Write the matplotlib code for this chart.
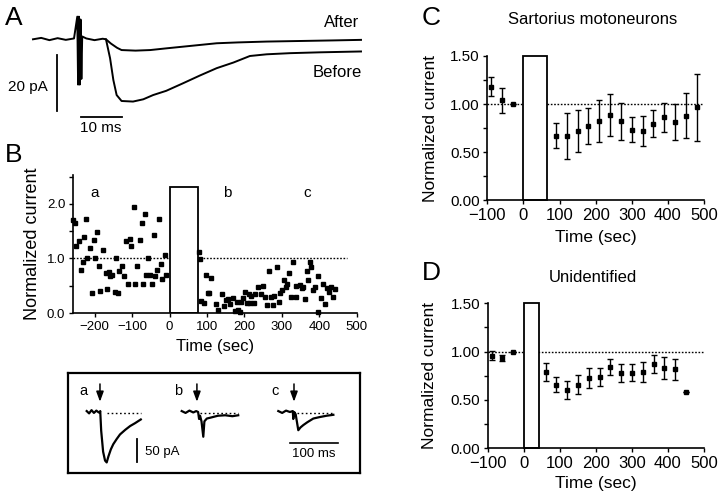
import matplotlib
matplotlib.use("Agg")
import matplotlib.pyplot as plt
from matplotlib.ticker import FixedLocator, FuncFormatter

plt.rcParams['font.family'] = ['Liberation Sans', 'DejaVu Sans']

# ---------------- data ----------------
# Panel A traces (ms, pA)
a_before_t = [0, 2, 4, 6, 8, 10, 10.8, 11.0, 11.2, 11.4, 11.6, 11.8, 12.0, 13, 15, 17, 17.8, 18.8, 19.6,
              20.4, 21.6, 24.4, 26.9, 29.3, 32.5, 36.5, 40.7, 44.8, 48.9, 52.9, 57, 62.7, 70, 80]
a_before_v = [0, 0.5, -0.3, 0.4, -0.2, 0.3, 8, -16, 8, -16, 7, -14, 1, 0.3, -0.3, 0.2, 0, -6.7, -14.4,
              -19.7, -21.8, -22, -21.2, -19.7, -18.2, -15.6, -12.8, -10.2, -8.2, -5.9, -5.3, -4.9, -4.6, -4.3]
a_after_t = [17.8, 19, 20.5, 21.6, 25, 28.6, 32.5, 36.6, 40.7, 44.8, 50, 57, 65, 73, 80]
a_after_v = [0, -1.5, -3.0, -3.8, -4.0, -3.8, -3.2, -2.6, -2.0, -1.4, -1.1, -0.8, -0.6, -0.4, -0.2]

# Panel B scatter
b_pre_x = [-259, -253, -250, -241, -237, -231, -228, -224, -220, -213, -208, -203, -199, -193, -188, -185,
           -177, -171, -166, -163, -159, -154, -146, -144, -138, -134, -127, -122, -117, -112, -107, -102,
           -95, -92, -87, -80, -74, -71, -66, -63, -57, -51, -47, -42, -38, -34, -27, -23, -20, -13, -10]
b_pre_y = [1.71, 1.65, 1.23, 1.32, 0.79, 0.94, 1.39, 1.72, 1.00, 1.20, 0.36, 1.34, 1.00, 1.49, 0.86, 0.40,
           1.16, 0.74, 0.44, 0.76, 0.67, 0.70, 0.39, 1.00, 0.36, 0.77, 0.86, 0.68, 1.32, 0.53, 1.35, 1.23,
           1.95, 0.53, 0.86, 1.33, 1.65, 0.53, 1.82, 0.70, 1.00, 0.70, 0.53, 1.43, 0.67, 0.78, 1.72, 0.90,
           0.62, 1.06, 0.70]
b_post_x = [79, 80, 85, 91, 97, 102, 106, 112, 125, 129, 140, 146, 151, 157, 162, 169, 175, 179, 182, 187,
            191, 196, 201, 207, 211, 216, 218, 225, 229, 236, 243, 250, 256, 261, 266, 271, 276, 280, 287,
            292, 296, 301, 305, 311, 314, 320, 325, 330, 338, 339, 348, 354, 357, 361, 366, 370, 375, 379,
            384, 388, 396, 397, 405, 409, 414, 420, 426, 430, 437, 441]
b_post_y = [1.11, 0.99, 0.22, 0.18, 0.69, 0.36, 0.36, 0.65, 0.16, 0.06, 0.35, 0.12, 0.23, 0.25, 0.17, 0.27,
            0.04, 0.21, 0.06, 0.01, 0.20, 0.27, 0.39, 0.18, 0.35, 0.18, 0.31, 0.18, 0.35, 0.48, 0.35, 0.50,
            0.30, 0.15, 0.77, 0.30, 0.15, 0.32, 0.85, 0.21, 0.36, 0.42, 0.61, 0.48, 0.53, 0.73, 0.30, 0.93,
            0.50, 0.30, 0.51, 0.45, 0.48, 0.25, 0.77, 0.61, 0.93, 0.84, 0.42, 0.48, 0.68, 0.02, 0.27, 0.54,
            0.16, 0.45, 0.39, 0.48, 0.30, 0.44]
b_bar_width = 75
b_bar_height = 2.31
b_labels = ['a', 'b', 'c']
b_label_x = [-199, 154, 368]

# Panel B inset traces (ms relative to trace start, pA)
ins_a_t = [0, 5, 10, 15, 20, 25, 27.5, 28, 30, 34, 38, 41.4, 45, 50, 55, 62, 69, 80, 90, 100, 112]
ins_a_v = [2, -3, 4, -2, 3, -1, 0, 2, -40, -85, -104, -108, -95, -80, -69, -58, -48, -38, -30, -24, -16]
ins_b_t = [0, 8, 16, 24, 30, 34, 36, 38, 41, 44.7, 47, 52, 60, 75, 90, 105, 117]
ins_b_v = [2, -2, 3, -1, 2, 0, -15, -8, -20, -53, -20, -14, -12, -8, -7, -9, -7]
ins_c_t = [0, 8, 16, 24, 30, 31, 33, 36, 41.4, 46, 51.8, 60, 72.5, 85, 100, 114]
ins_c_v = [2, -2, 3, 0, 2, -15, 0, -5, -39, -33, -28, -22, -14, -11, -8, -6]
ins_offsets = [38.7, 235.4, 435.4]
ins_arrow_t = [27.5, 31.5, 32.5]
ins_dot_start = [41.4, 38.9, 38.0]

# Panel C
c_x = [-90, -60, -30, 90, 120, 150, 180, 210, 240, 270, 300, 330, 360, 390, 420, 450, 480]
c_y = [1.18, 1.04, 1.00, 0.67, 0.67, 0.72, 0.77, 0.826, 0.885, 0.82, 0.73, 0.72, 0.795, 0.86, 0.81, 0.88, 0.965]
c_err = [0.097, 0.13, 0, 0.13, 0.24, 0.215, 0.19, 0.22, 0.22, 0.19, 0.13, 0.16, 0.14, 0.15, 0.19, 0.23, 0.35]
c_bar_width = 65

# Panel D
d_x = [-90, -60, -30, 60, 90, 120, 150, 180, 210, 240, 270, 300, 330, 360, 390, 420, 450]
d_y = [0.957, 0.934, 1.00, 0.785, 0.657, 0.60, 0.655, 0.723, 0.733, 0.837, 0.775, 0.778, 0.79, 0.871,
       0.83, 0.816, 0.578]
d_err = [0.044, 0.03, 0, 0.092, 0.075, 0.097, 0.099, 0.102, 0.092, 0.082, 0.096, 0.088, 0.106, 0.095,
         0.118, 0.11, 0]
d_bar_width = 43

# ---------------- figure ----------------
W, H = 720, 496
fig = plt.figure(figsize=(7.2, 4.96), dpi=100)


def px_axes(l, t, r, b):
    return fig.add_axes([l / W, 1 - b / H, (r - l) / W, (b - t) / H])


LW = 1.2

# ---------- Panel A ----------
axA = px_axes(20, 10, 370, 135)
msx, pay = 4.1, 2.83
axA.set_xlim(-13 / msx, 337 / msx)
axA.set_ylim(-(135 - 39.3) / pay, (39.3 - 10) / pay)
axA.axis('off')
axA.plot(a_before_t, a_before_v, color='black', lw=1.4)
axA.plot(a_after_t, a_after_v, color='black', lw=1.4)
axA.plot([5.85, 5.85], [-5.5, -25.5], color='black', lw=1.3)
axA.plot([11.7, 21.7], [-27.4, -27.4], color='black', lw=1.3)
axA.text(-1.2, -17.0, '20 pA', ha='center', va='center', fontsize=11)
axA.text(16.6, -31.2, '10 ms', ha='center', va='center', fontsize=11)
axA.text(79.5, 6.1, 'After', ha='right', va='center', fontsize=12)
axA.text(80.2, -11.6, 'Before', ha='right', va='center', fontsize=12)

fig.text(14 / W, 1 - 18 / H, 'A', fontsize=19, ha='center', va='center')
fig.text(14 / W, 1 - 155 / H, 'B', fontsize=19, ha='center', va='center')
fig.text(431 / W, 1 - 18 / H, 'C', fontsize=19, ha='center', va='center')
fig.text(431 / W, 1 - 273 / H, 'D', fontsize=19, ha='center', va='center')


def style_axes(ax, fsx, fsy):
    for s in ['top', 'right']:
        ax.spines[s].set_visible(False)
    for s in ['left', 'bottom']:
        ax.spines[s].set_linewidth(LW)
    ax.tick_params(direction='out', length=3, width=1.0, pad=2.5)
    ax.tick_params(axis='x', labelsize=fsx)
    ax.tick_params(axis='y', labelsize=fsy)


dot_style = dict(color='black', lw=1.0, linestyle=(0, (1.2, 1.2)), zorder=1)

# ---------- Panel B ----------
axB = px_axes(73, 175, 356.7, 313)
axB.set_xlim(-258, 500)
axB.set_ylim(0, 2.53)
style_axes(axB, 9.5, 9.5)
axB.plot([-258, 475], [1, 1], **dot_style)
axB.bar([0], [b_bar_height], width=b_bar_width, align='edge', facecolor='white',
        edgecolor='black', lw=1.3, zorder=2)
axB.plot(b_pre_x + b_post_x, b_pre_y + b_post_y, 's', color='black', ms=2.2, clip_on=False, zorder=3)
axB.xaxis.set_major_locator(FixedLocator([-200, -100, 0, 100, 200, 300, 400, 500]))
axB.yaxis.set_major_locator(FixedLocator([0, 0.5, 1.0, 1.5, 2.0, 2.5]))
axB.yaxis.set_major_formatter(FuncFormatter(lambda v, p: f'{v:.1f}' if abs(v - round(v)) < 1e-6 else ''))
for lab, lx in zip(b_labels, b_label_x):
    axB.text(lx, 2.2, lab, ha='center', va='center', fontsize=11)
axB.text(-0.141, 0.5, 'Normalized current', rotation=90, transform=axB.transAxes,
         ha='center', va='center', fontsize=13)
axB.text(0.5, -0.246, 'Time (sec)', transform=axB.transAxes, ha='center', va='center', fontsize=12)

# ---------- Panel B inset ----------
axI = px_axes(68, 373, 360, 473)
sx, sy = 0.483, 0.467
axI.set_xlim(0, 292 / sx)
axI.set_ylim(-(473 - 412) / sy, (412 - 373) / sy)
axI.set_xticks([])
axI.set_yticks([])
for s in axI.spines.values():
    s.set_linewidth(1.6)
traces = [(ins_a_t, ins_a_v), (ins_b_t, ins_b_v), (ins_c_t, ins_c_v)]
for (tt, vv), off, at, ds, lab in zip(traces, ins_offsets, ins_arrow_t, ins_dot_start, b_labels):
    axI.plot([t + off for t in tt], vv, color='black', lw=1.6)
    axI.plot([off + ds, off + tt[-1]], [-2, -2], color='black', lw=1.0, linestyle=(0, (1.2, 1.8)))
    axI.annotate('', xy=(off + at, 16), xytext=(off + at, 66),
                 arrowprops=dict(arrowstyle='-|>,head_length=0.6,head_width=0.22', color='black', lw=1.1))
    axI.text(off - 7, 46, lab, ha='center', va='center', fontsize=10.5)
axI.plot([143.5, 143.5], [-57, -107], color='black', lw=1.3)
axI.text(159, -85, '50 pA', ha='left', va='center', fontsize=9.5)
axI.plot([459.6, 559.6], [-66.4, -66.4], color='black', lw=1.2)
axI.text(509.6, -89, '100 ms', ha='center', va='center', fontsize=9.5)


# ---------- Panels C and D ----------
def panel_cd(ax, xs, ys, errs, bw, title, lab_x, xl_y, title_y):
    ax.set_xlim(-100, 500)
    ax.set_ylim(0, 1.5)
    style_axes(ax, 12, 11)
    ax.plot([-100, 500], [1, 1], **dot_style)
    ax.bar([0], [1.5], width=bw, align='edge', facecolor='white', edgecolor='black', lw=1.3,
           zorder=2, clip_on=False)
    ax.errorbar(xs, ys, yerr=errs, fmt='s', color='black', ms=3.0, capsize=2.2, elinewidth=1.0,
                capthick=1.0, zorder=3, clip_on=False)
    ax.xaxis.set_major_locator(FixedLocator([-100, 0, 100, 200, 300, 400, 500]))
    ax.yaxis.set_major_locator(FixedLocator([0, 0.25, 0.5, 0.75, 1.0, 1.25, 1.5]))
    ax.yaxis.set_major_formatter(FuncFormatter(
        lambda v, p: f'{v:.2f}' if abs(v * 2 - round(v * 2)) < 1e-6 else ''))
    ax.text(lab_x, 0.5, 'Normalized current', rotation=90, transform=ax.transAxes,
            ha='center', va='center', fontsize=12.5)
    ax.text(0.5, xl_y, 'Time (sec)', transform=ax.transAxes, ha='center', va='center', fontsize=12.5)
    ax.text(0.486, title_y, title, transform=ax.transAxes, ha='center', va='center', fontsize=12)


axC = px_axes(487.3, 56, 704, 200)
panel_cd(axC, c_x, c_y, c_err, c_bar_width, 'Sartorius motoneurons', -0.264, -0.257, (200 - 20) / 144)
axD = px_axes(488, 303.3, 704, 448)
panel_cd(axD, d_x, d_y, d_err, d_bar_width, 'Unidentified', -0.269, -0.242, (448 - 277) / 144.7)

fig.savefig('out.png', dpi=100)
